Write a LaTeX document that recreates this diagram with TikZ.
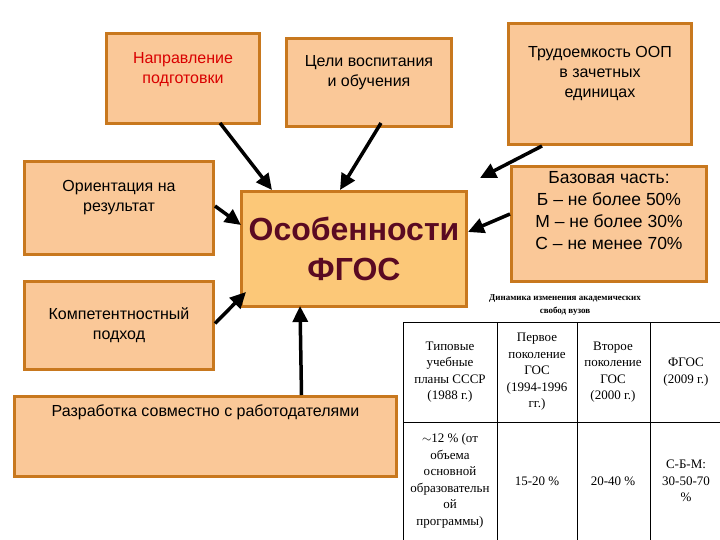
\documentclass[tikz,border=0pt]{standalone}
\usepackage{fontspec}
\setmainfont{Liberation Sans}
\newfontfamily\tabfont{Liberation Serif}
\usetikzlibrary{arrows.meta}
\definecolor{boxfill}{HTML}{FAC898}
\definecolor{boxline}{HTML}{C8781E}
\definecolor{cfill}{HTML}{FCC878}
\definecolor{maroon}{HTML}{5A0A22}
\begin{document}
\begin{tikzpicture}[x=1pt,y=-1pt,
  box/.style={draw=boxline,line width=3pt,fill=boxfill,align=center,font=\fontsize{16}{20}\selectfont,anchor=north west},
  arr/.style={-{Triangle[length=16pt,width=15pt]},line width=3.5pt,black},
  cell/.style={align=center,font=\tabfont\fontsize{13}{16.5}\selectfont}]
\useasboundingbox (0,0) rectangle (720,540);
\fill[white] (0,0) rectangle (720,540);
\node[box,minimum width=153pt,minimum height=90pt] (np) at (105,32) {\textcolor{red!85!black}{Направление}\\\textcolor{red!85!black}{подготовки}\\[2pt]};
\node[box,minimum width=165pt,minimum height=88pt] (cv) at (285,37) {Цели воспитания\\и обучения\\[4pt]};
\node[box,minimum width=183pt,minimum height=121pt] (tr) at (507,22) {Трудоемкость ООП\\в зачетных\\единицах\\[4pt]};
\node[box,minimum width=189pt,minimum height=93pt] (or) at (23,160) {Ориентация на\\результат\\[4pt]};
\node[box,minimum width=195pt,minimum height=115pt,font=\fontsize{17.5}{22}\selectfont] (bz) at (510,165) {Базовая часть:\\Б – не более 50\%\\М – не более 30\%\\С – не менее 70\%\\[6pt]};
\node[box,minimum width=225pt,minimum height=115pt,fill=cfill,font=\bfseries\fontsize{32}{40}\selectfont,text=maroon] (c) at (240,190) {Особенности\\ФГОС};
\node[box,minimum width=189pt,minimum height=88pt] (kp) at (23,280) {Компетентностный\\подход};
\node[box,minimum width=382pt,minimum height=80pt] (rz) at (13,395) {Разработка совместно с работодателями\\[32pt]};
\coordinate (c1) at (272,190); \coordinate (c2) at (340,190);
\coordinate (c3) at (480,178); \coordinate (c4) at (468,232);
\coordinate (c5) at (241,225); \coordinate (c6) at (246,292);
\coordinate (c7) at (300,306);
\draw[arr] (np.south)++(37,-2) -- (c1);
\draw[arr] (cv.south)++(12,-5) -- (c2);
\draw[arr] (tr.south west)++(35,0) -- (c3);
\draw[arr] (bz.west) ++(0,-10) -- (c4);
\draw[arr] (or.east)++(0,-2) -- (c5);
\draw[arr] (kp.east)++(0,-2) -- (c6);
\draw[arr] (rz.north)++(96,0) -- (c7);
% table
\node[font=\tabfont\bfseries\fontsize{9}{13}\selectfont,align=center] (tt) at (565,305) {Динамика изменения академических\\свобод вузов};
\draw[line width=0.8pt] (403,322) -- (725,322) (403,322) -- (403,545) (403,422) -- (725,422)
  (497,322) -- (497,545) (577,322) -- (577,545) (650,322) -- (650,545);
\node[cell] (a1) at (450,372) {Типовые\\учебные\\планы СССР\\(1988 г.)};
\node[cell] (a2) at (537,372) {Первое\\поколение\\ГОС\\(1994-1996\\гг.)};
\node[cell] (a3) at (613,372) {Второе\\поколение\\ГОС\\(2000 г.)};
\node[cell] (a4) at (686,372) {ФГОС\\(2009 г.)};
\node[cell] (b1) at (450,481) {$\sim$12 \% (от\\объема\\основной\\образовательн\\ой\\программы)};
\node[cell] (b2) at (537,481) {15-20 \%};
\node[cell] (b3) at (613,481) {20-40 \%};
\node[cell] (b4) at (686,481) {С-Б-М:\\30-50-70\\\%};
\end{tikzpicture}
\end{document}
